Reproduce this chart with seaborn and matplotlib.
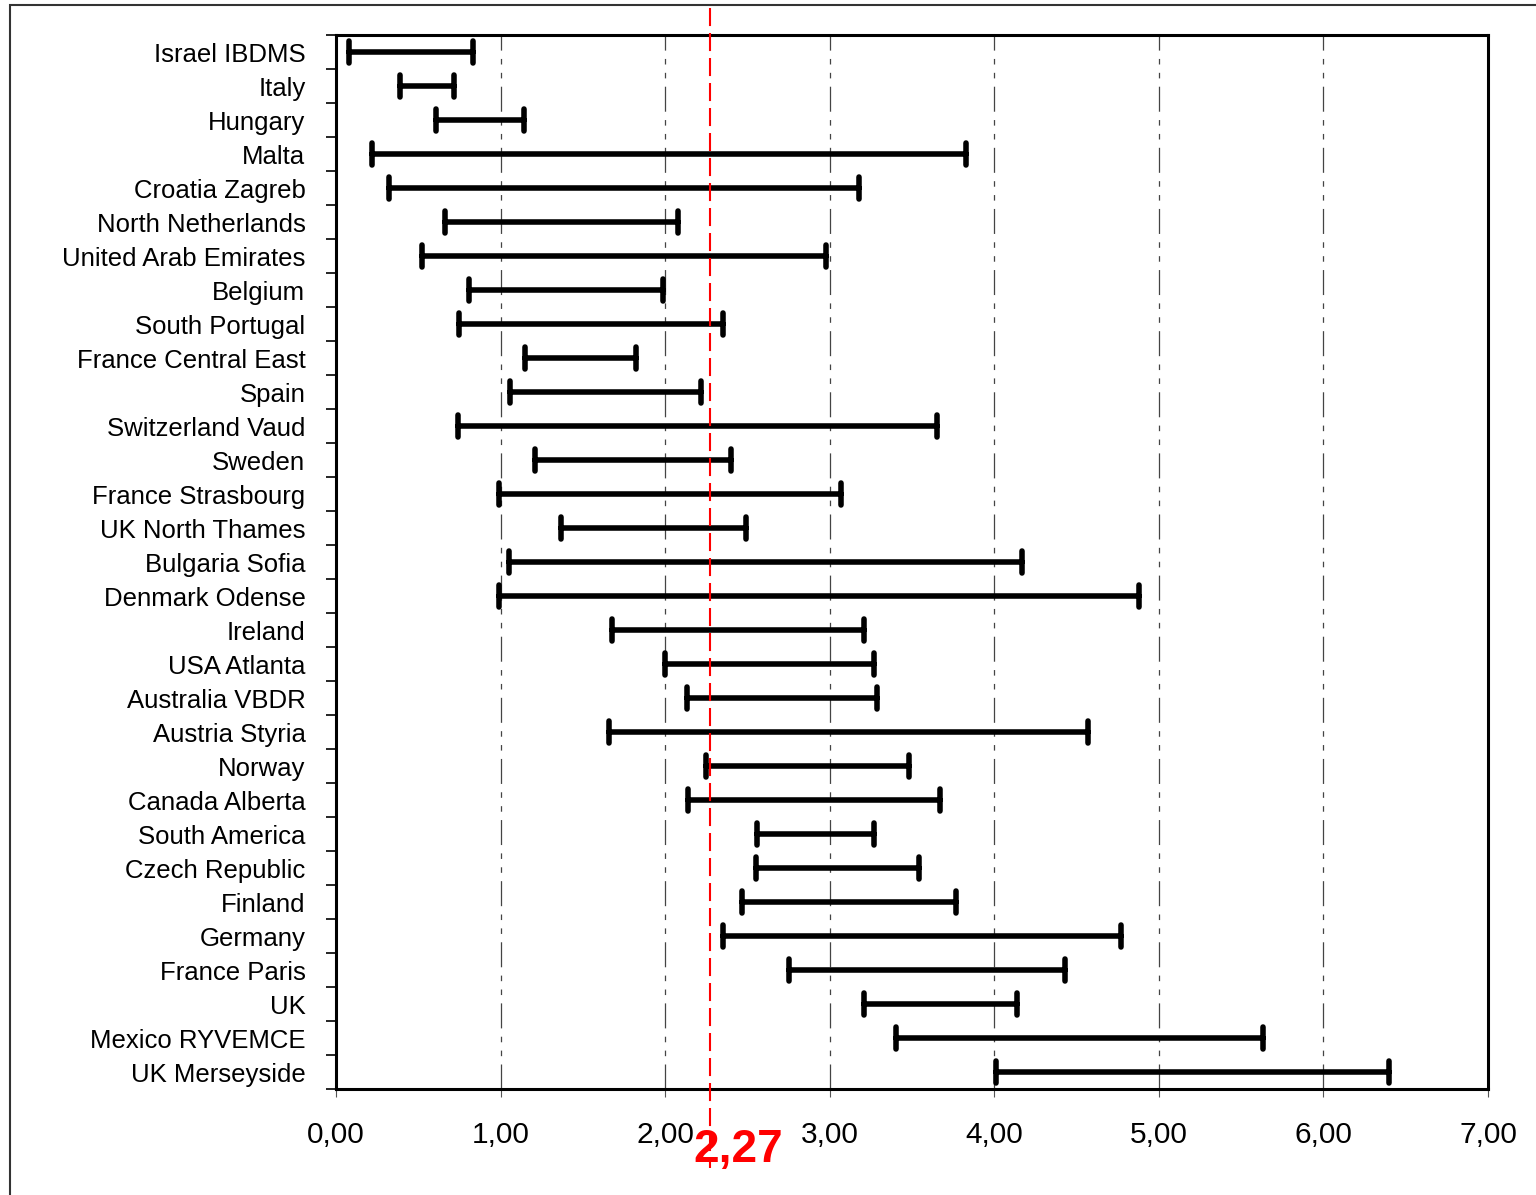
import numpy as np
import pandas as pd
import seaborn as sns
import matplotlib.pyplot as plt
from matplotlib.patches import Rectangle
from matplotlib.ticker import FuncFormatter, FixedLocator

countries = [
    "Israel IBDMS", "Italy", "Hungary", "Malta", "Croatia Zagreb",
    "North Netherlands", "United Arab Emirates", "Belgium", "South Portugal",
    "France Central East", "Spain", "Switzerland Vaud", "Sweden",
    "France Strasbourg", "UK North Thames", "Bulgaria Sofia", "Denmark Odense",
    "Ireland", "USA Atlanta", "Australia VBDR", "Austria Styria", "Norway",
    "Canada Alberta", "South America", "Czech Republic", "Finland", "Germany",
    "France Paris", "UK", "Mexico RYVEMCE", "UK Merseyside",
]
low_values = [
    0.08, 0.39, 0.61, 0.22, 0.32, 0.66, 0.52, 0.81, 0.75, 1.15, 1.06, 0.74,
    1.21, 0.99, 1.37, 1.05, 0.99, 1.68, 2.00, 2.13, 1.66, 2.25, 2.14, 2.56,
    2.55, 2.47, 2.35, 2.75, 3.21, 3.40, 4.01,
]
high_values = [
    0.83, 0.72, 1.14, 3.83, 3.18, 2.08, 2.98, 1.99, 2.35, 1.82, 2.22, 3.65,
    2.40, 3.07, 2.49, 4.17, 4.88, 3.21, 3.27, 3.29, 4.57, 3.48, 3.67, 3.27,
    3.54, 3.77, 4.77, 4.43, 4.14, 5.63, 6.40,
]
mean_value = 2.27
x_ticks = [0, 1, 2, 3, 4, 5, 6, 7]

sns.set_style("white")
plt.rcParams["font.family"] = ["Liberation Sans", "DejaVu Sans"]
plt.rcParams["lines.scale_dashes"] = False
plt.rcParams["text.color"] = "black"
plt.rcParams["xtick.color"] = "black"
plt.rcParams["ytick.color"] = "black"

rangeFrame = pd.DataFrame({
    "country": countries * 2,
    "value": low_values + high_values,
})

fig = plt.figure(figsize=(15.36, 11.95), dpi=100)
ax = fig.add_axes([0.21875, 0.0887, 0.75, 0.882])

sns.pointplot(
    data=rangeFrame, x="value", y="country", order=countries,
    estimator="mean", errorbar=lambda v: (v.min(), v.max()),
    linestyle="none", marker="", color="black", capsize=0.62,
    err_kws={"linewidth": 4.0, "solid_capstyle": "round"}, ax=ax,
)

ax.set_xlim(x_ticks[0], x_ticks[-1])
ax.set_ylim(len(countries) - 0.5, -0.5)
ax.set_xticks(x_ticks)
ax.xaxis.set_major_formatter(FuncFormatter(lambda v, p: f"{v:.2f}".replace(".", ",")))
ax.set_xlabel("")
ax.set_ylabel("")

for xv in x_ticks[1:-1]:
    ax.axvline(xv, color="#444444", linewidth=0.9,
               linestyle=(0, (18, 6, 4, 6, 4, 6)), zorder=0)

for spine in ax.spines.values():
    spine.set_linewidth(2.2)
    spine.set_color("black")

ax.tick_params(axis="x", direction="out", length=6, width=0.8, color="#555555",
               pad=17, labelsize=21.5, labelcolor="black", bottom=True)
ax.tick_params(axis="y", which="major", length=0, pad=22, labelsize=18.5,
               labelcolor="black")
ax.yaxis.set_minor_locator(FixedLocator(np.arange(len(countries) + 1) - 0.5))
ax.tick_params(axis="y", which="minor", direction="out", length=7, width=1.2,
               color="black", left=True)

# mean line
ax.plot([mean_value, mean_value], [1.026, -0.075], color="red", linewidth=1.5,
        linestyle=(0, (13, 5)), transform=ax.get_xaxis_transform(),
        clip_on=False, zorder=5)
ax.annotate(f"{mean_value:.2f}".replace(".", ","),
            xy=(mean_value, 0), xycoords=ax.get_xaxis_transform(),
            xytext=(-12, -44), textcoords="offset points",
            ha="left", va="center", color="red", fontsize=33,
            fontweight="bold")

fig.patches.append(Rectangle((10 / 1536, -0.5), 1.5, 0.5 + 1 - 5 / 1195,
                             transform=fig.transFigure, fill=False,
                             edgecolor="#333333", linewidth=1.5))

fig.savefig("out.png", dpi=100)
